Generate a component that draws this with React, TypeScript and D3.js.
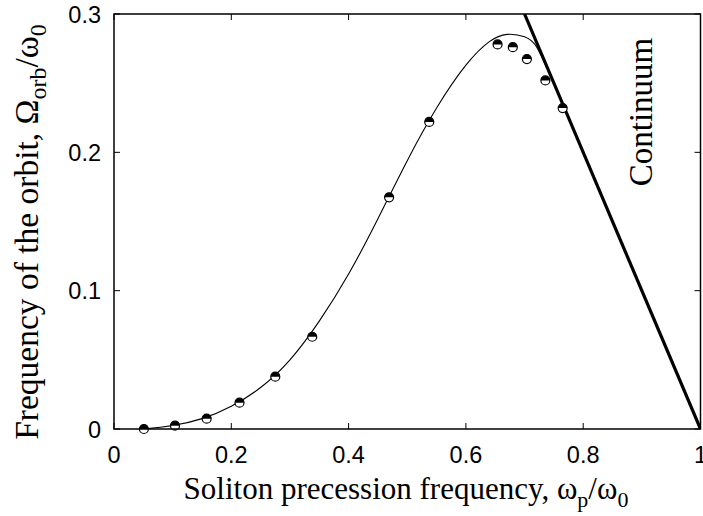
import React from "react";
import * as d3 from "d3";

const xTicks = [0, 0.2, 0.4, 0.6, 0.8, 1];
const yTicks = [0, 0.1, 0.2, 0.3];
const xTickLabels = ["0", "0.2", "0.4", "0.6", "0.8", "1"];
const yTickLabels = ["0", "0.1", "0.2", "0.3"];

const pointX = [0.051, 0.104, 0.158, 0.214, 0.275, 0.338, 0.469, 0.5375, 0.654, 0.68, 0.704, 0.7355, 0.765];
const pointY = [0.0, 0.0024, 0.0075, 0.019, 0.0378, 0.0667, 0.1675, 0.222, 0.278, 0.276, 0.2674, 0.252, 0.232];

const curveX = [0.05, 0.1, 0.15, 0.2, 0.25, 0.3, 0.35, 0.4, 0.45, 0.5, 0.55, 0.6, 0.64, 0.67, 0.7, 0.72, 0.738];
const curveY = [0.0, 0.0025, 0.0075, 0.0165, 0.03, 0.05, 0.078, 0.112, 0.152, 0.194, 0.232, 0.263, 0.28, 0.2853, 0.2835, 0.2765, 0.261];

const continuumX = [0.7, 1.0];
const continuumY = [0.3, 0.0];

const W = 703, H = 516;
const left = 114, right = 700.5, top = 14, bottom = 429;

export default function App() {
  const x = d3.scaleLinear().domain([0, 1]).range([left, right]);
  const y = d3.scaleLinear().domain([0, 0.3]).range([bottom, top]);
  const line = d3.line<[number, number]>().x(d => x(d[0])).y(d => y(d[1])).curve(d3.curveNatural);
  const curvePts: [number, number][] = curveX.map((v, i) => [v, curveY[i]]);
  const contPts: [number, number][] = continuumX.map((v, i) => [v, continuumY[i]]);
  const straight = d3.line<[number, number]>().x(d => x(d[0])).y(d => y(d[1]));
  const r = 4.5;
  const tick = 6;
  return (
    <svg width={W} height={H} style={{ position: "absolute", left: 0, top: 0, background: "#fff" }}>
      <defs>
        <clipPath id="plot">
          <rect x={left} y={top} width={right - left} height={bottom - top} />
        </clipPath>
      </defs>
      <rect x={0} y={0} width={W} height={H} fill="#fff" />
      {xTicks.map((t, i) => (
        <g key={"xt" + i} stroke="#000" strokeWidth={1}>
          <line x1={x(t)} x2={x(t)} y1={bottom} y2={bottom - tick} />
          <line x1={x(t)} x2={x(t)} y1={top} y2={top + tick} />
        </g>
      ))}
      {yTicks.map((t, i) => (
        <g key={"yt" + i} stroke="#000" strokeWidth={1}>
          <line x1={left} x2={left + tick} y1={y(t)} y2={y(t)} />
          <line x1={right} x2={right - tick} y1={y(t)} y2={y(t)} />
        </g>
      ))}
      {xTicks.map((t, i) => (
        <text key={"xl" + i} x={x(t)} y={463} textAnchor="middle" fontFamily="Liberation Sans, Arial, sans-serif" fontSize={23.5}>
          {xTickLabels[i]}
        </text>
      ))}
      {yTicks.map((t, i) => (
        <text key={"yl" + i} x={101} y={y(t) + 8.5} textAnchor="end" fontFamily="Liberation Sans, Arial, sans-serif" fontSize={23.5}>
          {yTickLabels[i]}
        </text>
      ))}
      <g clipPath="url(#plot)">
        <path d={line(curvePts) || ""} fill="none" stroke="#000" strokeWidth={1.1} />
        <path d={straight(contPts) || ""} fill="none" stroke="#000" strokeWidth={3.2} />
      </g>
      {pointX.map((px, i) => {
        const cx = x(px), cy = y(pointY[i]);
        return (
          <g key={"p" + i}>
            <circle cx={cx} cy={cy} r={r} fill="#fff" stroke="#000" strokeWidth={1.2} />
            <path d={`M${cx - r},${cy} A${r},${r} 0 0 1 ${cx + r},${cy} Z`} fill="#000" />
          </g>
        );
      })}
      <rect x={left} y={top} width={right - left} height={bottom - top} fill="none" stroke="#000" strokeWidth={1.5} />
      <text x={406} y={499} textAnchor="middle" fontFamily="Liberation Serif, Times New Roman, serif" fontSize={31}>
        Soliton precession frequency, ω<tspan fontSize={22} dy={8}>p</tspan><tspan dy={-8}>/ω</tspan><tspan fontSize={22} dy={8}>0</tspan>
      </text>
      <text transform={`translate(38, 232) rotate(-90)`} textAnchor="middle" fontFamily="Liberation Serif, Times New Roman, serif" fontSize={33.5}>
        Frequency of the orbit, Ω<tspan fontSize={24} dy={8}>orb</tspan><tspan dy={-8}>/ω</tspan><tspan fontSize={24} dy={8}>0</tspan>
      </text>
      <text transform={`translate(652, 112) rotate(-90)`} textAnchor="middle" fontFamily="Liberation Serif, Times New Roman, serif" fontSize={33}>
        Continuum
      </text>
    </svg>
  );
}
